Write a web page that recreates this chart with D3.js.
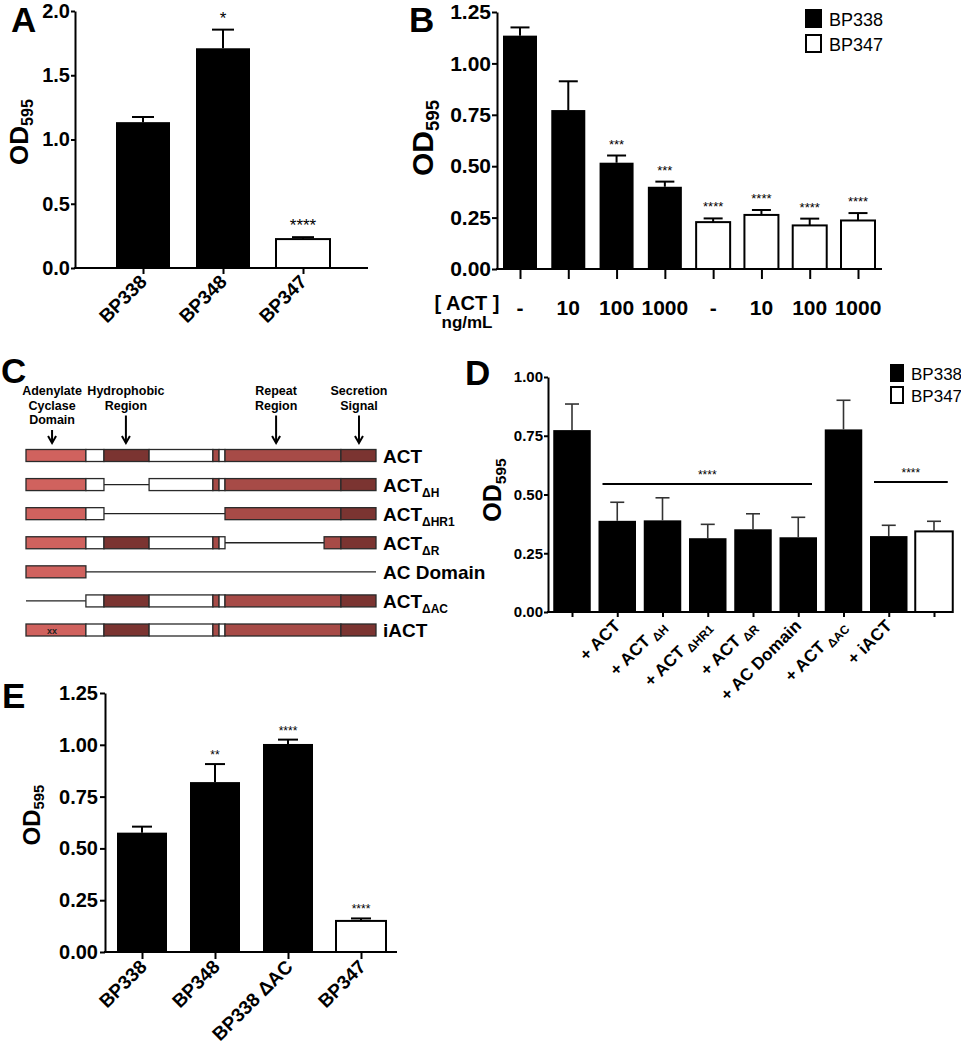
<!DOCTYPE html>
<html>
<head>
<meta charset="utf-8">
<script src="https://cdn.jsdelivr.net/npm/d3@7"></script>
<style>
  body { margin: 0; background: #fff; }
  text { font-family: "Liberation Sans", Arial, sans-serif; }
</style>
</head>
<body>
<div id="chart-holder"></div>
<script>
//****DATA****
// Panel A
const aLabels = ["BP338", "BP348", "BP347"];
const aMeans = [1.135, 1.71, 0.225];
const aErrors = [0.04, 0.145, 0.015];
const aStars = ["", "*", "****"];
const aStrain = ["BP338", "BP338", "BP347"];
const aTicks = [0, 0.5, 1.0, 1.5, 2.0];

// Panel B
const bLabels = ["-", "10", "100", "1000", "-", "10", "100", "1000"];
const bMeans = [1.135, 0.773, 0.517, 0.40, 0.228, 0.263, 0.212, 0.236];
const bErrors = [0.04, 0.14, 0.035, 0.025, 0.018, 0.024, 0.033, 0.036];
const bStars = ["", "", "***", "***", "****", "****", "****", "****"];
const bStrain = ["BP338", "BP338", "BP338", "BP338", "BP347", "BP347", "BP347", "BP347"];
const bTicks = [0, 0.25, 0.5, 0.75, 1.0, 1.25];

// Panel C : construct maps, positions in residues
const cMain = ["ACT", "ACT", "ACT", "ACT", "AC Domain", "ACT", "iACT"];
const cSub = ["", "ΔH", "ΔHR1", "ΔR", "", "ΔAC", ""];
const cSegments = [
  [[0, 292, "ac"], [292, 380, "white"], [380, 600, "hydro"], [600, 911, "white"], [911, 941, "rep"], [941, 970, "white"], [970, 1535, "rep"], [1535, 1706, "sec"]],
  [[0, 292, "ac"], [292, 380, "white"], [380, 600, "line"], [600, 911, "white"], [911, 941, "rep"], [941, 970, "white"], [970, 1535, "rep"], [1535, 1706, "sec"]],
  [[0, 292, "ac"], [292, 380, "white"], [380, 970, "line"], [970, 1535, "rep"], [1535, 1706, "sec"]],
  [[0, 292, "ac"], [292, 380, "white"], [380, 600, "hydro"], [600, 911, "white"], [911, 941, "rep"], [941, 970, "white"], [970, 1453, "line"], [1453, 1535, "rep"], [1535, 1706, "sec"]],
  [[0, 292, "ac"], [292, 1706, "line"]],
  [[0, 292, "line"], [292, 380, "white"], [380, 600, "hydro"], [600, 911, "white"], [911, 941, "rep"], [941, 970, "white"], [970, 1535, "rep"], [1535, 1706, "sec"]],
  [[0, 292, "ac"], [292, 380, "white"], [380, 600, "hydro"], [600, 911, "white"], [911, 941, "rep"], [941, 970, "white"], [970, 1535, "rep"], [1535, 1706, "sec"]]
];
const cArrowLabels = [["Adenylate", "Cyclase", "Domain"], ["Hydrophobic", "Region"], ["Repeat", "Region"], ["Secretion", "Signal"]];
const cArrowPos = [127, 487, 1219, 1623];
const cMutation = "xx";

// Panel D
const dMain = ["", "+ ACT", "+ ACT", "+ ACT", "+ ACT", "+ AC Domain", "+ ACT", "+ iACT", ""];
const dSub = ["", "", "ΔH", "ΔHR1", "ΔR", "", "ΔAC", "", ""];
const dMeans = [0.774, 0.388, 0.39, 0.314, 0.352, 0.318, 0.777, 0.323, 0.343];
const dErrors = [0.111, 0.079, 0.096, 0.059, 0.066, 0.085, 0.124, 0.046, 0.043];
const dStrain = ["BP338", "BP338", "BP338", "BP338", "BP338", "BP338", "BP338", "BP338", "BP347"];
const dSigFrom = [1, 7];
const dSigTo = [5, 8];
const dSigLevel = [0.545, 0.553];
const dSigText = ["****", "****"];
const dTicks = [0, 0.25, 0.5, 0.75, 1.0];

// Panel E
const eLabels = ["BP338", "BP348", "BP338 ΔAC", "BP347"];
const eMeans = [0.576, 0.82, 1.004, 0.15];
const eErrors = [0.029, 0.087, 0.021, 0.012];
const eStars = ["", "**", "****", "****"];
const eStrain = ["BP338", "BP338", "BP338", "BP347"];
const eTicks = [0, 0.25, 0.5, 0.75, 1.0, 1.25];

const legendStrains = ["BP338", "BP347"];
const strainFill = {"BP338": "black", "BP347": "white"};

//****SVG CANVAS****
const width = 961;
const height = 1050;
const svg = d3.select('#chart-holder')
    .append('svg')
    .attr('width', width)
    .attr('height', height);

// Draw one GraphPad style bar panel, returns the scales and group
function barPanel(cfg) {
    const g = svg.append('g');
    const y = d3.scaleLinear().domain([0, cfg.yMax]).range([cfg.y0, cfg.y1]);
    const x = d3.scalePoint().domain(d3.range(cfg.means.length)).range([cfg.c0, cfg.c1]);

    // bars
    g.selectAll('rect.bar')
        .data(cfg.means)
        .enter()
        .append('rect')
        .attr('class', 'bar')
        .attr('x', (d, i) => x(i) - cfg.bw / 2)
        .attr('width', cfg.bw)
        .attr('y', d => y(d))
        .attr('height', d => y(0) - y(d))
        .attr('fill', (d, i) => strainFill[cfg.strain[i]])
        .attr('stroke', 'black')
        .attr('stroke-width', (d, i) => cfg.strain[i] === "BP347" ? 2 : 0);

    // error bars
    const eb = g.selectAll('g.err')
        .data(cfg.means)
        .enter()
        .append('g')
        .attr('stroke', cfg.errColor || 'black')
        .attr('stroke-width', cfg.errWidth || 2);
    eb.append('line')
        .attr('x1', (d, i) => x(i)).attr('x2', (d, i) => x(i))
        .attr('y1', d => y(d)).attr('y2', (d, i) => y(d + cfg.errs[i]));
    eb.append('line')
        .attr('x1', (d, i) => x(i) - cfg.cap / 2).attr('x2', (d, i) => x(i) + cfg.cap / 2)
        .attr('y1', (d, i) => y(d + cfg.errs[i])).attr('y2', (d, i) => y(d + cfg.errs[i]));

    // significance stars
    g.selectAll('text.star')
        .data(cfg.stars)
        .enter()
        .append('text')
        .attr('x', (d, i) => x(i))
        .attr('y', (d, i) => y(cfg.means[i] + cfg.errs[i]) - cfg.starGap)
        .attr('text-anchor', 'middle')
        .style('font-size', cfg.starSize + 'px')
        .text(d => d);

    // y axis
    const yAxis = g.append('g')
        .attr('transform', `translate(${cfg.ax},0)`)
        .call(d3.axisLeft(y).tickValues(cfg.yTicks).tickFormat(d3.format(cfg.fmt))
            .tickSize(cfg.yTick).tickSizeOuter(0).tickPadding(cfg.yPad));
    yAxis.selectAll('path, line').attr('stroke', 'black').attr('stroke-width', 2);
    yAxis.selectAll('text')
        .attr('fill', 'black')
        .style('font-size', cfg.yFont + 'px')
        .style('font-weight', 'bold')
        .style('font-family', '"Liberation Sans", Arial, sans-serif');

    // x axis: ticks below bar centres
    const xAxis = g.append('g')
        .attr('transform', `translate(0,${cfg.y0})`)
        .call(d3.axisBottom(x).tickSize(cfg.xTick).tickFormat(''));
    xAxis.select('.domain').remove();
    xAxis.selectAll('line').attr('stroke', 'black').attr('stroke-width', 2);
    g.append('line')
        .attr('x1', cfg.ax - 1).attr('x2', cfg.axEnd)
        .attr('y1', cfg.y0).attr('y2', cfg.y0)
        .attr('stroke', 'black').attr('stroke-width', 2);

    // y label OD595
    const yl = g.append('text')
        .attr('transform', `translate(${cfg.ylX},${cfg.ylY}) rotate(-90)`)
        .attr('text-anchor', 'middle')
        .style('font-weight', 'bold')
        .style('font-size', cfg.ylFont + 'px');
    yl.append('tspan').text('OD');
    yl.append('tspan').attr('dy', '0.3em').style('font-size', '0.62em').text('595');

    // panel letter
    svg.append('text')
        .attr('x', cfg.letterX).attr('y', cfg.letterY)
        .style('font-weight', 'bold')
        .style('font-size', '35px')
        .text(cfg.letter);
    return {x: x, y: y, g: g};
}

// rotated category labels with optional subscript
function rotatedLabels(g, x, y0, mains, subs, dx, dy, font, subFont) {
    mains.forEach(function(m, i) {
        if (!m) return;
        const t = g.append('text')
            .attr('transform', `translate(${x(i) + dx},${y0 + dy}) rotate(-45)`)
            .attr('text-anchor', 'end')
            .style('font-weight', 'bold')
            .style('font-size', font + 'px');
        t.append('tspan').text(m);
        if (subs && subs[i]) {
            t.append('tspan').attr('dx', 4).attr('dy', 4).style('font-size', subFont + 'px').text(subs[i]);
        }
    });
}

//****PANEL A****
const pA = barPanel({
    means: aMeans, errs: aErrors, stars: aStars, strain: aStrain,
    yMax: 2.0, y0: 268, y1: 11, c0: 143, c1: 303, bw: 54, cap: 22,
    ax: 75, axEnd: 368, yTicks: aTicks, fmt: '.1f', yTick: 4, yPad: 1, yFont: 20,
    xTick: 6, starGap: 6, starSize: 17,
    ylX: 28, ylY: 132, ylFont: 26, letter: 'A', letterX: 11, letterY: 32
});
rotatedLabels(pA.g, pA.x, 268, aLabels, null, 5, 15, 19, 13);

//****PANEL B****
const pB = barPanel({
    means: bMeans, errs: bErrors, stars: bStars, strain: bStrain,
    yMax: 1.25, y0: 269, y1: 12, c0: 520, c1: 858, bw: 34, cap: 19,
    ax: 497, axEnd: 882, yTicks: bTicks, fmt: '.2f', yTick: 5, yPad: 1, yFont: 21,
    xTick: 10, starGap: 7, starSize: 13,
    ylX: 433, ylY: 138, ylFont: 30, letter: 'B', letterX: 409, letterY: 32
});
pB.g.selectAll('text.cat')
    .data(bLabels)
    .enter()
    .append('text')
    .attr('x', (d, i) => pB.x(i))
    .attr('y', 315)
    .attr('text-anchor', 'middle')
    .style('font-weight', 'bold')
    .style('font-size', '21px')
    .text(d => d);
pB.g.append('text').attr('x', 467).attr('y', 310).attr('text-anchor', 'middle')
    .style('font-weight', 'bold').style('font-size', '20px').text('[ ACT ]');
pB.g.append('text').attr('x', 467).attr('y', 328).attr('text-anchor', 'middle')
    .style('font-weight', 'bold').style('font-size', '17px').text('ng/mL');

// legend helper
function legend(x0, y0, step, box, font) {
    const lg = svg.append('g').attr('transform', `translate(${x0},${y0})`);
    legendStrains.forEach(function(s, i) {
        lg.append('rect')
            .attr('x', 0).attr('y', i * step)
            .attr('width', box[0]).attr('height', box[1])
            .attr('fill', strainFill[s]).attr('stroke', 'black').attr('stroke-width', 2);
        lg.append('text')
            .attr('x', box[0] + 8).attr('y', i * step + box[1] - 1)
            .style('font-size', font + 'px')
            .text(s);
    });
}
legend(806, 10, 25, [15, 17], 18);

//****PANEL C****
const cX = d3.scaleLinear().domain([0, 1706]).range([26, 376]);
const cY = d3.scalePoint().domain(d3.range(cMain.length)).range([455.5, 630]);
const segColor = {ac: '#d0625e', white: '#ffffff', hydro: '#7b3431', rep: '#a74b47', sec: '#7b3431'};
const cg = svg.append('g');
cSegments.forEach(function(segs, r) {
    const yc = cY(r);
    segs.filter(s => s[2] === 'line').forEach(function(s) {
        cg.append('line')
            .attr('x1', cX(s[0])).attr('x2', cX(s[1]))
            .attr('y1', yc).attr('y2', yc)
            .attr('stroke', '#222').attr('stroke-width', 1.3);
    });
    segs.filter(s => s[2] !== 'line').forEach(function(s) {
        cg.append('rect')
            .attr('x', cX(s[0])).attr('width', cX(s[1]) - cX(s[0]))
            .attr('y', yc - 6).attr('height', 12)
            .attr('fill', segColor[s[2]])
            .attr('stroke', '#2a2a2a').attr('stroke-width', 1.3);
    });
    const t = cg.append('text')
        .attr('x', 383).attr('y', yc + 7)
        .style('font-weight', 'bold').style('font-size', '19px');
    t.append('tspan').text(cMain[r]);
    if (cSub[r]) t.append('tspan').attr('dy', 5).style('font-size', '12px').text(cSub[r]);
});
// point mutations in iACT
cg.append('text')
    .attr('x', cX(cArrowPos[0])).attr('y', cY(6) + 3.5)
    .attr('text-anchor', 'middle')
    .style('font-size', '9px').style('font-weight', 'bold').attr('fill', '#222')
    .text(cMutation);
// domain labels and arrows
cArrowLabels.forEach(function(lines, i) {
    const ax = cX(cArrowPos[i]);
    lines.forEach(function(l, j) {
        cg.append('text')
            .attr('x', ax).attr('y', 395 + j * 14.5)
            .attr('text-anchor', 'middle')
            .style('font-weight', 'bold').style('font-size', '12.5px')
            .text(l);
    });
    const top = 395 + (lines.length - 1) * 14.5 + 6;
    cg.append('line').attr('x1', ax).attr('x2', ax).attr('y1', top).attr('y2', 443)
        .attr('stroke', 'black').attr('stroke-width', 2);
    cg.append('path')
        .attr('d', `M${ax - 4},${436} L${ax},${443} L${ax + 4},${436}`)
        .attr('fill', 'none').attr('stroke', 'black').attr('stroke-width', 2);
});
svg.append('text').attr('x', 1).attr('y', 383)
    .style('font-weight', 'bold').style('font-size', '35px').text('C');

//****PANEL D****
const pD = barPanel({
    means: dMeans, errs: dErrors, stars: dMeans.map(() => ""), strain: dStrain,
    yMax: 1.0, y0: 612, y1: 377, c0: 572, c1: 934, bw: 37.5, cap: 14,
    ax: 548, axEnd: 953, yTicks: dTicks, fmt: '.2f', yTick: 4, yPad: 1, yFont: 15,
    xTick: 5, starGap: 6, starSize: 12, errColor: '#333', errWidth: 1.6,
    ylX: 501, ylY: 490, ylFont: 25, letter: 'D', letterX: 465, letterY: 385
});
rotatedLabels(pD.g, pD.x, 612, dMain, dSub, 4, 15, 17, 12);
dSigFrom.forEach(function(f, k) {
    const x1 = pD.x(f) - 37.5 / 2 + 4;
    const x2 = pD.x(dSigTo[k]) + 37.5 / 2 - 5;
    const yy = pD.y(dSigLevel[k]);
    pD.g.append('line').attr('x1', x1).attr('x2', x2).attr('y1', yy).attr('y2', yy)
        .attr('stroke', 'black').attr('stroke-width', 2);
    pD.g.append('text').attr('x', (x1 + x2) / 2).attr('y', yy - 5)
        .attr('text-anchor', 'middle').style('font-size', '12px').text(dSigText[k]);
});
legend(891, 365, 22, [12, 16], 17);

//****PANEL E****
const pE = barPanel({
    means: eMeans, errs: eErrors, stars: eStars, strain: eStrain,
    yMax: 1.25, y0: 952, y1: 693, c0: 142, c1: 361, bw: 50, cap: 20,
    ax: 105, axEnd: 397, yTicks: eTicks, fmt: '.2f', yTick: 5, yPad: 2, yFont: 20,
    xTick: 7, starGap: 5, starSize: 12,
    ylX: 40, ylY: 815, ylFont: 24, letter: 'E', letterX: 2, letterY: 708
});
rotatedLabels(pE.g, pE.x, 952, eLabels, null, 6, 16, 19, 13);
</script>
</body>
</html>
